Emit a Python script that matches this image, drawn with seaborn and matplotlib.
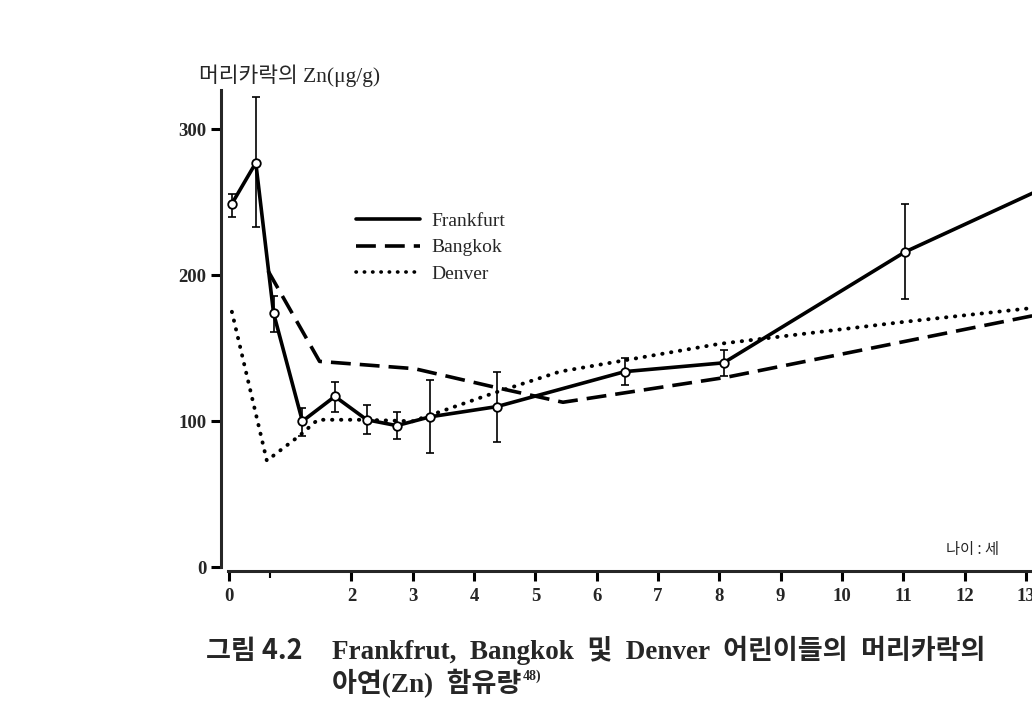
import matplotlib
matplotlib.use("Agg")
import matplotlib.pyplot as plt
import seaborn as sns
import pandas as pd

# ---- data ----
frank_age = [0.05, 0.44, 0.73, 1.2, 1.73, 2.25, 2.74, 3.28, 4.37, 6.46, 8.07, 11.03, 13.2]
frank_zn  = [249, 277, 174, 100, 117, 101, 97, 103, 110, 134, 140, 216, 258]
frank_err_lo = [9, 44, 13, 10, 11, 10, 9, 25, 24, 9, 9, 32, 0]
frank_err_hi = [7, 45, 12, 9, 10, 10, 9, 25, 24, 9, 9, 33, 0]
frank_has_marker = [1, 1, 1, 1, 1, 1, 1, 1, 1, 1, 1, 1, 0]

bang_age = [0.64, 1.48, 3.03, 4.37, 5.45, 8.1, 13.2]
bang_zn  = [203, 141, 136, 123, 113, 130, 173]

denv_age = [0.05, 0.62, 1.15, 1.45, 2.2, 3.0, 4.3, 5.4, 8.0, 11.0, 13.2]
denv_zn  = [175, 73, 90, 101, 101, 100, 119, 134, 153, 168, 178]

xtick_vals = [0, 2, 3, 4, 5, 6, 7, 8, 9, 10, 11, 12, 13]
ytick_vals = [0, 100, 200, 300]
series_names = ["Frankfurt", "Bangkok", "Denver"]

sns.set_style("ticks")
plt.rcParams["font.family"] = ["Liberation Serif", "Noto Sans CJK KR", "DejaVu Sans"]

fig = plt.figure(figsize=(10.32, 7.02), dpi=100)
ax = fig.add_axes([0.214, 0.192, 0.786, 0.680])

df_f = pd.DataFrame({"age": frank_age, "zn": frank_zn})
df_b = pd.DataFrame({"age": bang_age, "zn": bang_zn})
df_d = pd.DataFrame({"age": denv_age, "zn": denv_zn})

sns.lineplot(data=df_f, x="age", y="zn", ax=ax, color="black", lw=2.6,
             sort=False, label=series_names[0], zorder=3)
sns.lineplot(data=df_b, x="age", y="zn", ax=ax, color="black", lw=2.6,
             sort=False, linestyle=(0, (5.5, 2.5)), label=series_names[1], zorder=2)
sns.lineplot(data=df_d, x="age", y="zn", ax=ax, color="black", lw=2.8,
             sort=False, linestyle=(0, (0.1, 2.2)), dash_capstyle="round",
             label=series_names[2], zorder=2)

# error bars and open circles for Frankfurt
ea = [a for a, m in zip(frank_age, frank_has_marker) if m]
ez = [z for z, m in zip(frank_zn, frank_has_marker) if m]
elo = [e for e, m in zip(frank_err_lo, frank_has_marker) if m]
ehi = [e for e, m in zip(frank_err_hi, frank_has_marker) if m]
ax.errorbar(ea, ez, yerr=[elo, ehi], fmt="none", ecolor="black",
            elinewidth=1.2, capsize=3, capthick=1.2, zorder=4)
ax.scatter(ea, ez, s=38, facecolor="white", edgecolor="black",
           linewidth=1.3, zorder=5)

sns.despine(ax=ax)
ax.spines["left"].set_linewidth(2.2)
ax.spines["bottom"].set_linewidth(2.2)
ax.spines["bottom"].set_position(("outward", 3))

ax.set_xlim(-0.13, 13.1)
ax.set_ylim(0, 327)
ax.spines["bottom"].set_bounds(-0.02, 13.2)
ax.set_xticks(xtick_vals)
ax.set_xticks([0.67], minor=True)
ax.set_yticks(ytick_vals)
ax.set_xticklabels([str(v) for v in xtick_vals], fontsize=13.5, fontweight="bold")
ax.set_yticklabels([str(v) for v in ytick_vals], fontsize=13.5, fontweight="bold")
ax.tick_params(axis="both", which="major", direction="out", length=7, width=2.2, color="black")
ax.tick_params(axis="x", which="minor", direction="out", length=5, width=1.5, color="black")
ax.tick_params(axis="x", pad=5)
ax.set_xlabel("")
ax.set_ylabel("")

leg = ax.legend(loc="upper left", bbox_to_anchor=(0.145, 0.78), frameon=False,
                handlelength=3.3, fontsize=14, labelspacing=0.45, handletextpad=0.6)
for h in leg.get_lines():
    h.set_linewidth(2.6)

ax.text(-0.027, 1.03, "머리카락의 Zn(μg/g)", transform=ax.transAxes,
        fontsize=15.5, ha="left", va="center")
ax.text(11.7, 12, "나이 : 세", fontsize=11, ha="left", va="center",
        family=["Noto Sans CJK KR"], clip_on=False)

fig.text(0.2, 0.073, "그림 4.2", fontsize=19.5, fontweight="bold", ha="left", va="center",
         family=["Noto Sans CJK KR"])
fig.text(0.322, 0.073, "Frankfrut,  Bangkok  및  Denver  어린이들의  머리카락의",
         fontsize=19.5, fontweight="bold", ha="left", va="center")
t2 = fig.text(0.322, 0.026, "아연(Zn)  함유량", fontsize=19.5, fontweight="bold",
              ha="left", va="center")
ax.annotate("48)", xy=(1.0, 0.75), xycoords=t2, xytext=(1, 0), textcoords="offset points",
            fontsize=10, fontweight="bold", ha="left", va="center", annotation_clip=False)

fig.savefig("out.png", dpi=100, facecolor="white")
